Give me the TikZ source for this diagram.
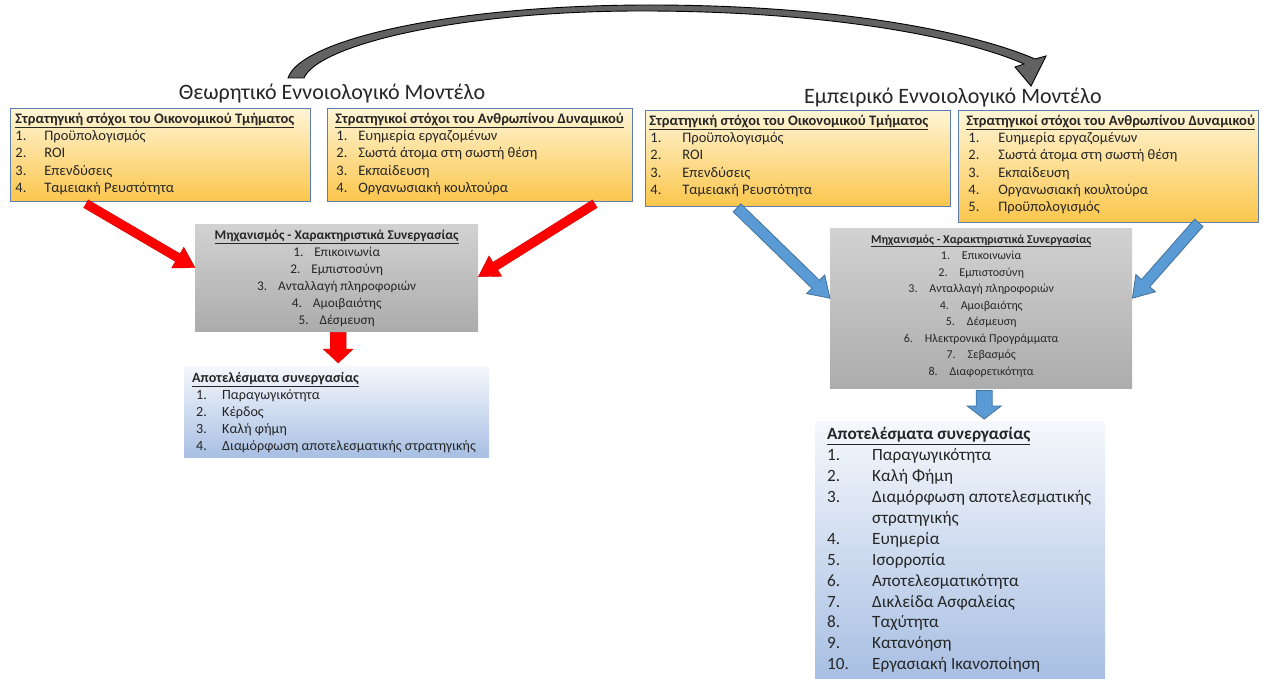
\documentclass[tikz,border=0pt]{standalone}
\usepackage{fontspec}
\setmainfont{Carlito}
\usetikzlibrary{calc}
\definecolor{ytop}{HTML}{FFF5D6}
\definecolor{ymid}{HTML}{FEE29A}
\definecolor{ybot}{HTML}{FBC64C}
\definecolor{ybord}{HTML}{5B7FB5}
\definecolor{gtop}{HTML}{D2D2D2}
\definecolor{gbot}{HTML}{ACACAC}
\definecolor{btop}{HTML}{F5F8FC}
\definecolor{bbot}{HTML}{A8BFE3}
\definecolor{redA}{HTML}{FF0000}
\definecolor{blueA}{HTML}{5B9BD5}
\definecolor{blueAd}{HTML}{41719C}
\definecolor{txt}{HTML}{262626}
\definecolor{arcfill}{HTML}{626262}
\newlength\nind
\newlength\nw
\newcommand\bx[5]{\begin{minipage}[t][#2][t]{#1}\setlength\nind{#3}\setlength\nw{#4}#5\end{minipage}}
\newcommand\hd[1]{\strut\underline{\textbf{#1}}\par}
\newcommand\itm[2]{\hspace*{\nind}\makebox[\nw][l]{#1}\mbox{#2}\par}
\newcommand\citm[2]{\makebox[21pt][l]{#1}#2\par}
\newcommand\blockarr[6]{%
  \coordinate (bac) at ($(#3)!#6!(#2)$);
  \draw[#1] ($(#2)!#4!90:(#3)$) -- ($(bac)!#4!90:(#3)$) -- ($(bac)!#5!90:(#3)$) -- (#3)
    -- ($(bac)!#5!-90:(#3)$) -- ($(bac)!#4!-90:(#3)$) -- ($(#2)!#4!-90:(#3)$) -- cycle;}
\tikzset{
  smallf/.style={font=\fontsize{14.5}{17.2}\selectfont, text=txt},
  ybox/.style={smallf, draw=ybord, line width=0.8pt, top color=ytop, middle color=ymid, bottom color=ybot, inner ysep=3pt, anchor=north west},
  gbox/.style={text=txt, top color=gtop, bottom color=gbot, inner xsep=5pt, inner ysep=3.4pt, anchor=north west},
  bbox/.style={font=\fontsize{14.1}{17}\selectfont, text=txt, top color=btop, bottom color=bbot, inner ysep=4pt, anchor=north west},
  ttl/.style={font=\fontsize{22}{26}\selectfont, text=txt, inner sep=0pt},
  redarr/.style={fill=redA, draw=red!80!black, line width=0.4pt},
  bluearr/.style={fill=blueA, draw=blueAd, line width=0.8pt},
  arcarr/.style={fill=arcfill, draw=black, line width=0.9pt}
}
\begin{document}
\begin{tikzpicture}[x=1pt,y=-1pt]
\useasboundingbox (0,0) rectangle (1263,679);
\fill[white] (0,0) rectangle (1263,679);

% titles
\node[ttl] (t1) at (332,94) {Θεωρητικό Εννοιολογικό Μοντέλο};
\node[ttl] (t2) at (953,98) {Εμπειρικό Εννοιολογικό Μοντέλο};

% curved arrow between the two models
\draw[arcarr] (288,78) .. controls (300,40) and (450,5) .. (650,5)
  .. controls (850,5) and (980,35) .. (1035,59)
  -- (1046,56) -- (1031,86) -- (1015,67) -- (1024,64)
  .. controls (975,42) and (850,12) .. (650,11)
  .. controls (460,10) and (318,45) .. (304,78) -- cycle;

% ---------------- left model ----------------
\node[ybox, inner xsep=5pt] (l1) at (10,108) {\bx{290pt}{87pt}{0pt}{29pt}{%
  \hd{Στρατηγική στόχοι του Οικονομικού Τμήματος}
  \itm{1.}{Προϋπολογισμός}
  \itm{2.}{ROI}
  \itm{3.}{Επενδύσεις}
  \itm{4.}{Ταμειακή Ρευστότητα}}};
\node[ybox, inner xsep=8pt] (l2) at (327,108) {\bx{289pt}{87pt}{1pt}{22pt}{%
  \hd{Στρατηγικοί στόχοι του Ανθρωπίνου Δυναμικού}
  \itm{1.}{Ευημερία εργαζομένων}
  \itm{2.}{Σωστά άτομα στη σωστή θέση}
  \itm{3.}{Εκπαίδευση}
  \itm{4.}{Οργανωσιακή κουλτούρα}}};
\node[gbox, font=\fontsize{13.3}{17}\selectfont] (gl) at (195,224) {\bx{273pt}{100.2pt}{0pt}{0pt}{\centering
  \hd{Μηχανισμός - Χαρακτηριστικά Συνεργασίας}
  \citm{1.}{Επικοινωνία}
  \citm{2.}{Εμπιστοσύνη}
  \citm{3.}{Ανταλλαγή πληροφοριών}
  \citm{4.}{Αμοιβαιότης}
  \citm{5.}{Δέσμευση}}};
\node[bbox, inner xsep=8pt] (bl) at (184,366) {\bx{289pt}{83pt}{4pt}{26pt}{%
  \hd{Αποτελέσματα συνεργασίας}
  \itm{1.}{Παραγωγικότητα}
  \itm{2.}{Κέρδος}
  \itm{3.}{Καλή φήμη}
  \itm{4.}{Διαμόρφωση αποτελεσματικής στρατηγικής}}};

% ---------------- right model ----------------
\node[ybox, inner xsep=4pt] (r1) at (645,110) {\bx{297pt}{90pt}{1pt}{32pt}{%
  \hd{Στρατηγική στόχοι του Οικονομικού Τμήματος}
  \itm{1.}{Προϋπολογισμός}
  \itm{2.}{ROI}
  \itm{3.}{Επενδύσεις}
  \itm{4.}{Ταμειακή Ρευστότητα}}};
\node[ybox, inner xsep=8pt] (r2) at (958,110) {\bx{284pt}{106pt}{2pt}{30pt}{%
  \hd{Στρατηγικοί στόχοι του Ανθρωπίνου Δυναμικού}
  \itm{1.}{Ευημερία εργαζομένων}
  \itm{2.}{Σωστά άτομα στη σωστή θέση}
  \itm{3.}{Εκπαίδευση}
  \itm{4.}{Οργανωσιακή κουλτούρα}
  \itm{5.}{Προϋπολογισμός}}};
\node[gbox, font=\fontsize{12}{16.5}\selectfont] (gr) at (830,228) {\bx{292pt}{153.2pt}{0pt}{0pt}{\centering
  \hd{Μηχανισμός - Χαρακτηριστικά Συνεργασίας}
  \citm{1.}{Επικοινωνία}
  \citm{2.}{Εμπιστοσύνη}
  \citm{3.}{Ανταλλαγή πληροφοριών}
  \citm{4.}{Αμοιβαιότης}
  \citm{5.}{Δέσμευση}
  \citm{6.}{Ηλεκτρονικά Προγράμματα}
  \citm{7.}{Σεβασμός}
  \citm{8.}{Διαφορετικότητα}}};
\node[bbox, font=\fontsize{17.2}{20.9}\selectfont, inner xsep=12pt, inner ysep=4pt] (br) at (815,421) {\bx{266pt}{250pt}{0pt}{45pt}{%
  \hd{Αποτελέσματα συνεργασίας}
  \itm{1.}{Παραγωγικότητα}
  \itm{2.}{Καλή Φήμη}
  \itm{3.}{Διαμόρφωση αποτελεσματικής}
  \itm{}{στρατηγικής}
  \itm{4.}{Ευημερία}
  \itm{5.}{Ισορροπία}
  \itm{6.}{Αποτελεσματικότητα}
  \itm{7.}{Δικλείδα Ασφαλείας}
  \itm{8.}{Ταχύτητα}
  \itm{9.}{Κατανόηση}
  \itm{10.}{Εργασιακή Ικανοποίηση}}};

% ---------------- connectors ----------------
\coordinate (a1s) at ([xshift=76pt,yshift=-2pt]l1.south west);
\coordinate (a1e) at ([yshift=10pt]gl.west);
\coordinate (a2s) at ([xshift=-38pt,yshift=-2pt]l2.south east);
\coordinate (a2e) at ([yshift=1pt]gl.east);
\coordinate (a3s) at ([xshift=1.5pt,yshift=-1pt]gl.south);
\coordinate (a3e) at ([yshift=3pt]a3s |- bl.north);
\blockarr{redarr}{a1s}{a1e}{4.5pt}{12pt}{20pt}
\blockarr{redarr}{a2s}{a2e}{4.5pt}{12pt}{20pt}
\blockarr{redarr}{a3s}{a3e}{8pt}{15pt}{14pt}

\coordinate (b1s) at ([xshift=92pt,yshift=-1pt]r1.south west);
\coordinate (b1e) at ([yshift=10pt]gr.west);
\coordinate (b2s) at ([xshift=-60pt,yshift=0pt]r2.south east);
\coordinate (b2e) at ([yshift=10pt]gr.east);
\coordinate (b3s) at ([xshift=3pt,yshift=-2pt]gr.south);
\coordinate (b3e) at ([yshift=2pt]b3s |- br.north);
\blockarr{bluearr}{b1s}{b1e}{5.5pt}{13pt}{20pt}
\blockarr{bluearr}{b2s}{b2e}{5.5pt}{13pt}{20pt}
\blockarr{bluearr}{b3s}{b3e}{8pt}{17pt}{13pt}
\end{tikzpicture}
\end{document}
